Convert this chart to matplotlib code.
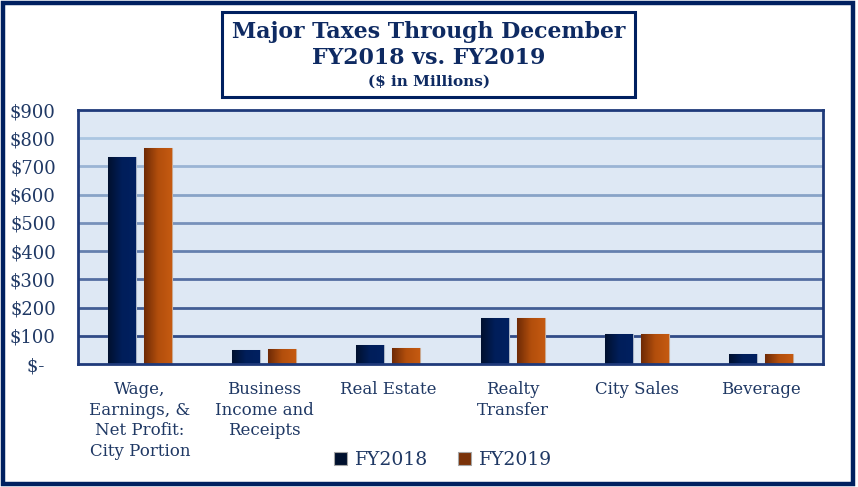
import numpy as np
import matplotlib.pyplot as plt
from matplotlib.patches import Rectangle
from matplotlib.colors import LinearSegmentedColormap, to_rgb

# Data ($ millions)
categories = ["Wage,\nEarnings, &\nNet Profit:\nCity Portion", "Business\nIncome and\nReceipts",
              "Real Estate", "Realty\nTransfer", "City Sales", "Beverage"]
fy2018 = [733, 50, 67, 164, 105, 37]
fy2019 = [765, 53, 57, 164, 107, 37]
yticks = [0, 100, 200, 300, 400, 500, 600, 700, 800, 900]
ytick_labels = ["$-  ", "$100", "$200", "$300", "$400", "$500", "$600", "$700", "$800", "$900"]

navy = "#1F3864"
text_col = "#1F3864"
title_col = "#0E2A62"
plt.rcParams['font.family'] = ['DejaVu Serif']

fig = plt.figure(figsize=(8.58, 4.87), dpi=100)
W, H = 858, 487

def fx(px):
    return px / W

def fy(py):
    return 1 - py / H

# outer frame
fig.patches.append(Rectangle((fx(3), fy(484)), fx(850), (481) / H, transform=fig.transFigure,
                             fill=False, edgecolor="#002060", lw=3.2, zorder=0))

# title box
fig.patches.append(Rectangle((fx(222), fy(97)), fx(413), 85 / H, transform=fig.transFigure,
                             fill=False, edgecolor="#002060", lw=2.2, zorder=0))
fig.text(fx(429), fy(32), "Major Taxes Through December", ha="center", va="center",
         fontsize=15.8, fontweight="bold", color=title_col)
fig.text(fx(429), fy(58), "FY2018 vs. FY2019", ha="center", va="center",
         fontsize=15.8, fontweight="bold", color=title_col)
fig.text(fx(429), fy(82), "($ in Millions)", ha="center", va="center",
         fontsize=11, fontweight="bold", color=title_col)

ax = fig.add_axes([fx(78), fy(364), fx(823 - 78), (364 - 110) / H])
ax.set_facecolor("#DEE8F4")

x = np.arange(len(categories))
w = 0.225
off = 0.145

# gridlines fading from light blue at top to navy at bottom
top_c = np.array(to_rgb("#BDD7EE"))
bot_c = np.array(to_rgb("#1F3A7A"))
for t in yticks[1:-1]:
    f = t / 900
    c = bot_c * (1 - f) + top_c * f
    ax.axhline(t, color=c, lw=2.0, zorder=1)

cmap18 = LinearSegmentedColormap.from_list("c18", ["#00102E", "#001E5A", "#002060"])
cmap19 = LinearSegmentedColormap.from_list("c19", ["#6E2A06", "#B24E0C", "#C55A11"])
grad = np.linspace(0, 1, 64).reshape(1, -1)

b18 = ax.bar(x - off, fy2018, w, color="#002060", edgecolor="#A9B4C6", lw=0.8, zorder=2, label="FY2018")
b19 = ax.bar(x + off, fy2019, w, color="#C55A11", edgecolor="#C9A890", lw=0.8, zorder=2, label="FY2019")

for bars, cm in [(b18, cmap18), (b19, cmap19)]:
    for r in bars:
        x0, y0 = r.get_x(), r.get_y()
        im = ax.imshow(grad, cmap=cm, aspect="auto", zorder=2.5,
                       extent=[x0, x0 + r.get_width(), y0, y0 + r.get_height()])
        im.set_clip_path(r)

ax.set_xlim(-0.5, len(categories) - 0.5)
ax.set_ylim(0, 900)
ax.set_yticks(yticks)
ax.set_yticklabels(ytick_labels, fontsize=13, color=text_col)
ax.set_xticks(x)
ax.set_xticklabels(categories, fontsize=12, color=text_col, linespacing=1.3, va="top")
ax.tick_params(axis="both", length=0)
ax.tick_params(axis="y", pad=16)
ax.tick_params(axis="x", pad=12)
for s in ax.spines.values():
    s.set_color("#1F3A7A")
    s.set_linewidth(2)

h18 = Rectangle((0, 0), 1, 1, facecolor="#00102E", edgecolor="#A6A6A6", lw=0.8)
h19 = Rectangle((0, 0), 1, 1, facecolor="#7A3208", edgecolor="#A6A6A6", lw=0.8)
fig.legend([h18, h19], ["FY2018", "FY2019"], loc="center", bbox_to_anchor=(fx(443), fy(460)),
           ncol=2, frameon=False, fontsize=13.5, handlelength=0.7, handleheight=0.7,
           handletextpad=0.4, columnspacing=1.6, labelcolor=text_col)

fig.savefig("out.png", dpi=100)
